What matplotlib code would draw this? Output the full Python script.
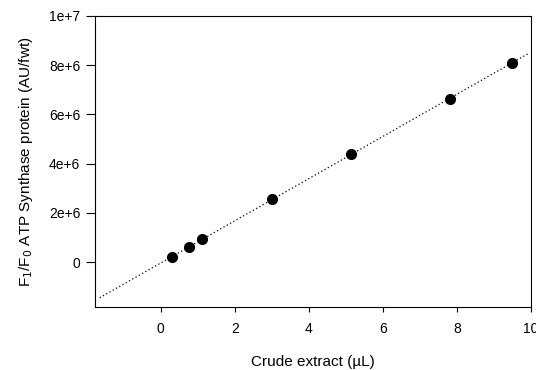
import matplotlib
matplotlib.use("Agg")
import matplotlib.pyplot as plt
import numpy as np

plt.rcParams['font.family'] = ['Liberation Sans', 'DejaVu Sans']

# Data
x_vals = [0.31, 0.76, 1.12, 3.01, 5.14, 7.80, 9.48]
y_vals = [0.22e6, 0.62e6, 0.92e6, 2.55e6, 4.38e6, 6.64e6, 8.09e6]

x_ticks = [0, 2, 4, 6, 8, 10]
x_tick_labels = ["0", "2", "4", "6", "8", "10"]
y_ticks = [0, 2e6, 4e6, 6e6, 8e6, 1e7]
y_tick_labels = ["0", "2e+6", "4e+6", "6e+6", "8e+6", "1e+7"]

fig = plt.figure(figsize=(5.36, 3.70), dpi=100)
ax = fig.add_axes([0.177, 0.170, 0.814, 0.787])

# Linear regression line
slope, intercept = np.polyfit(x_vals, y_vals, 1)
xl = np.array([-1.65, 9.95])
ax.plot(xl, slope * xl + intercept, linestyle=(0, (1, 2)), color='black', linewidth=0.9)

ax.plot(x_vals, y_vals, 'o', color='black', markersize=7, zorder=3)

ax.set_xlim(-1.78, 10)
ax.set_ylim(-1.83e6, 1e7)
ax.set_xticks(x_ticks)
ax.set_xticklabels(x_tick_labels)
ax.set_yticks(y_ticks)
ax.set_yticklabels(y_tick_labels)

ax.tick_params(axis='y', direction='out', length=6.5, width=0.8, labelsize=10, pad=4)
ax.tick_params(axis='x', direction='out', length=3.6, width=0.8, labelsize=10, pad=7)
for s in ax.spines.values():
    s.set_linewidth(0.8)

ax.set_xlabel("Crude extract (µL)", fontsize=11, labelpad=14)
ax.set_ylabel("F$_1$/F$_0$ ATP Synthase protein (AU/fwt)", fontsize=11, labelpad=10)

fig.savefig("out.png", dpi=100)
